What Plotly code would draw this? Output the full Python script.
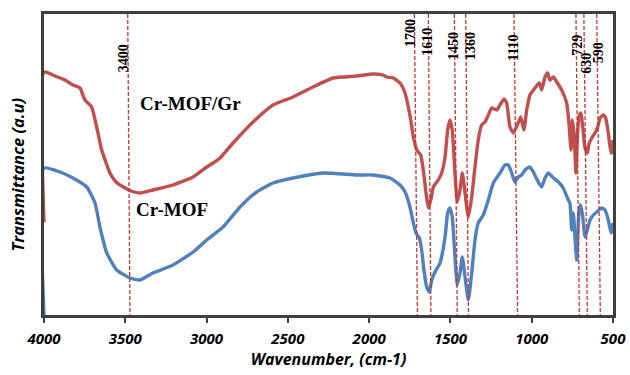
import plotly.graph_objects as go

# ---------------- data ----------------
# Cr-MOF/Gr (red) : wavenumber (cm-1) and transmittance (arbitrary units)
gr_wn = [4000, 4000, 3932, 3871, 3822, 3779, 3748, 3707, 3676, 3645, 3594, 3557, 3512, 3465, 3410,
         3330, 3207, 3083, 2999, 2960, 2917, 2837, 2714, 2591, 2468, 2345, 2222, 2075, 1976, 1915,
         1892, 1851, 1810, 1779, 1759, 1744, 1728, 1707, 1683, 1667, 1650, 1636, 1621, 1605, 1575,
         1554, 1533, 1517, 1503, 1489, 1472, 1458, 1441, 1427, 1410, 1390, 1369, 1349, 1329, 1308,
         1287, 1267, 1246, 1215, 1195, 1170, 1154, 1134, 1113, 1089, 1068, 1048, 1031, 1011, 980,
         953, 939, 918, 902, 888, 867, 846, 816, 785, 771, 758, 750, 738, 728, 717, 707, 697, 686,
         672, 658, 646, 627, 611, 594, 580, 560, 545, 529, 512, 503, 500]
gr_t = [93, 243, 239, 235, 230, 227, 215, 208, 188, 165, 142, 133, 128, 124, 122,
        125, 130, 138, 148, 152, 157, 172, 193, 210, 218, 228, 237, 239, 241, 240,
        238, 237, 232, 222, 208, 195, 178, 165, 160, 145, 122, 107, 115, 128, 135,
        142, 158, 185, 195, 185, 142, 113, 125, 142, 122, 98, 118, 148, 175, 190,
        193, 200, 207, 205, 210, 216, 212, 188, 182, 190, 198, 185, 205, 220, 227,
        232, 225, 238, 242, 235, 238, 233, 225, 212, 192, 165, 195, 178, 142, 185, 200, 202, 188,
        167, 162, 172, 178, 182, 188, 197, 200, 197, 182, 162, 165, 175]

# Cr-MOF (blue)
mof_wn = [4000, 4000, 3902, 3822, 3737, 3686, 3656, 3614, 3553, 3471, 3410, 3330, 3207, 3083, 2999,
          2899, 2794, 2692, 2591, 2468, 2284, 2075, 1976, 1872, 1810, 1779, 1749, 1728, 1712, 1691,
          1677, 1663, 1646, 1630, 1615, 1595, 1564, 1533, 1517, 1503, 1489, 1472, 1458, 1441, 1427,
          1410, 1390, 1369, 1349, 1329, 1298, 1267, 1236, 1195, 1164, 1144, 1123, 1103, 1083, 1062,
          1041, 1011, 990, 960, 939, 918, 898, 867, 836, 806, 775, 765, 754, 744, 734, 723, 709,
          699, 686, 672, 658, 641, 621, 600, 570, 549, 529, 512, 500]
mof_t = [0, 147, 143, 137, 128, 112, 88, 62, 45, 37, 35, 42, 50, 63, 75,
         88, 108, 123, 132, 137, 142, 140, 140, 137, 130, 123, 108, 92, 82, 77,
         65, 45, 28, 23, 35, 43, 52, 78, 102, 107, 98, 58, 30, 42, 58,
         38, 15, 42, 75, 92, 100, 115, 132, 142, 150, 150, 142, 133, 138, 140,
         145, 148, 143, 133, 128, 137, 142, 137, 133, 127, 115, 112, 85, 102, 78, 55, 105,
         110, 98, 78, 85, 95, 100, 103, 107, 105, 95, 82, 92]

# Marked bands: label text, dashed line ends (top, bottom) in cm-1, label anchor
band_labels = ["3400", "1700", "1610", "1450", "1360", "1110", "729", "630", "590"]
band_top_wn = [3485, 1722, 1636, 1476, 1406, 1109, 728, 679, 600]
band_bot_wn = [3471, 1703, 1620, 1458, 1389, 1087, 707, 658, 578]
band_label_wn = [3512, 1749, 1646, 1484, 1380, 1115, 723, 668, 590]
band_label_t = [257, 282, 273, 269, 269, 267, 270, 252, 262]

series_names = ["Cr-MOF/Gr", "Cr-MOF"]
series_label_wn = [3099, 3213]
series_label_t = [212, 106]

x_ticks = [4000, 3500, 3000, 2500, 2000, 1500, 1000, 500]

RED = "#C0504D"
BLUE = "#4F81BD"
AXC = "#3F3F3F"

fig = go.Figure()
fig.add_trace(go.Scatter(x=mof_wn, y=mof_t, mode="lines", name="Cr-MOF",
                         line=dict(color=BLUE, width=3.4, shape="spline", smoothing=0.5),
                         showlegend=False))
fig.add_trace(go.Scatter(x=gr_wn, y=gr_t, mode="lines", name="Cr-MOF/Gr",
                         line=dict(color=RED, width=3.4, shape="spline", smoothing=0.5),
                         showlegend=False))

for lab, xt, xb, lx, ly in zip(band_labels, band_top_wn, band_bot_wn, band_label_wn, band_label_t):
    fig.add_shape(type="line", xref="x", yref="paper", x0=xt, y0=1, x1=xb, y1=0,
                  line=dict(color="#CC3333", width=1.3, dash="4px,2px"), layer="above")
    fig.add_annotation(x=lx, y=ly, xref="x", yref="y", text=lab, showarrow=False,
                       textangle=-90, xanchor="center", yanchor="middle",
                       font=dict(family="Liberation Serif", size=14, color="black", weight="bold"))

for name, lx, ly in zip(series_names, series_label_wn, series_label_t):
    fig.add_annotation(x=lx, y=ly, xref="x", yref="y", text=name, showarrow=False,
                       xanchor="center", yanchor="middle",
                       font=dict(family="Liberation Serif", size=19, color="black", weight="bold"))

fig.add_annotation(x=-0.047, y=0.468, xref="paper", yref="paper", text="Transmittance (a.u)",
                   showarrow=False, textangle=-90, xanchor="center", yanchor="middle",
                   font=dict(family="Open Sans", size=16.5, color="black", weight="bold", style="italic"))

fig.update_xaxes(range=[4000, 500], tickvals=x_ticks, ticks="outside", ticklen=5, tickwidth=1.5,
                 tickcolor=AXC, showline=True, linecolor=AXC, linewidth=2.5, mirror=True,
                 showgrid=False, zeroline=False, layer="below traces", ticklabelstandoff=3,
                 automargin=False,
                 tickfont=dict(family="Open Sans", size=15, color="black", weight="bold", style="italic"),
                 title=dict(text="Wavenumber, (cm-1)", standoff=6,
                            font=dict(family="Open Sans", size=16, color="black", weight="bold", style="italic")))
fig.update_yaxes(range=[0, 301], showticklabels=False, ticks="", showline=True, linecolor=AXC,
                 linewidth=2.5, mirror=True, showgrid=False, zeroline=False, layer="below traces",
                 automargin=False)

fig.update_layout(width=630, height=375, margin=dict(l=44, r=17, t=14, b=60),
                  plot_bgcolor="white", paper_bgcolor="white")

# remove the default 8 px page margin so the figure fills the window exactly
fig.write_html("out.html", config={"displayModeBar": False},
               post_script="document.body.style.margin='0';document.body.style.overflow='hidden';")
